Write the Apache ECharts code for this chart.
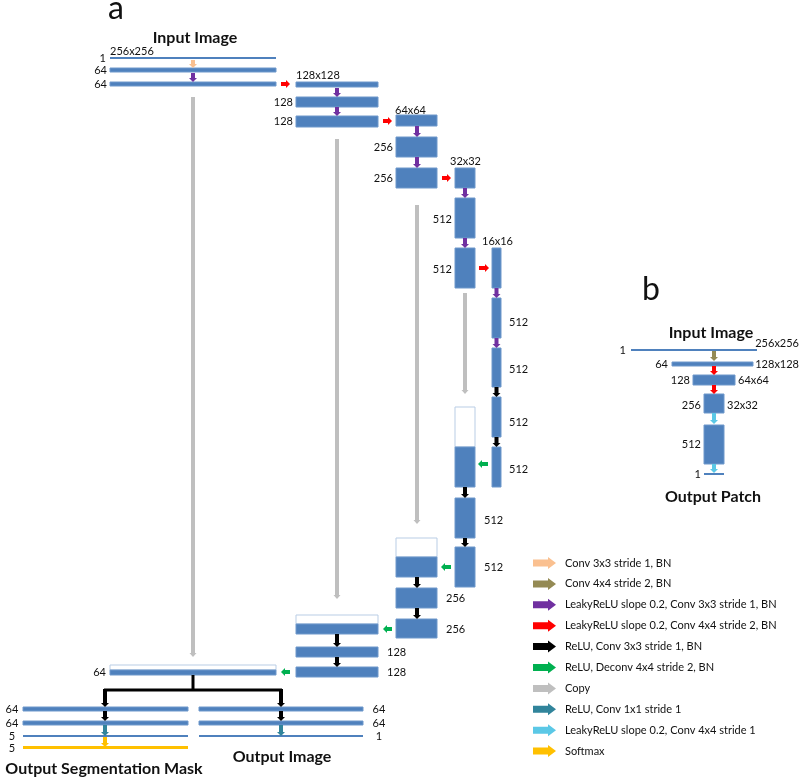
<!DOCTYPE html>
<html>
<head>
<meta charset="utf-8">
<script src="https://cdn.jsdelivr.net/npm/echarts@6/dist/echarts.min.js"></script>
<style>
  html, body { margin: 0; padding: 0; background: #ffffff; }
  #chart { width: 800px; height: 779px; }
</style>
</head>
<body>
<div id="chart"></div>
<script>
// ---------- DATA (diagram geometry in the 800x779 drawing space) ----------
// feature-map blocks [x0, y0, x1, y1]
const featureBlocks = [
  [110,68,276,72],[110,82,276,86],
  [296,82,378,87],[296,97,378,107],[296,116,378,127],
  [396,115,437,126],[396,137,437,157],[396,168,437,188],
  [455,168,475,188],[455,198,475,238],[455,248,475,288],
  [492,248,501,288],[492,298,501,338],[492,348,501,387],[492,397,501,437],[492,447,501,487],
  [455,447,475,487],[455,498,475,538],[455,547,475,587],
  [396,557,437,577],[396,588,437,608],[396,619,437,638],
  [296,624,378,634],[296,647,378,657],[296,667,378,677],
  [110,670,276,675],
  [23,707,188,711],[23,721,188,725],
  [199,707,363,711],[199,721,363,725],
  [672,362,753,366],[693,375,735,385],[704,394,724,413],[704,425,724,464]
];
// copied (skip-connection) halves [x0, y0, x1, y1]
const copiedBlocks = [[455,407,475,447],[396,538,437,557],[296,615,378,624],[110,665,276,670]];
// single-channel layers [x0, y, x1]
const thinLayers = [[110,58,276],[23,736,188],[199,736,363],[631,350,757],[704,474,724]];
const softmaxLayers = [[23,747.5,188]];

// arrows [x0, y0, x1, y1]
const conv3Arrows   = [[193,60,193,68]];
const conv4Arrows   = [[714,351,714,361]];
const lrelu3Arrows  = [[193,73,193,82],[337,88,337,97],[337,107,337,116],[417,126,417,137],[417,157,417,168],
                       [465,188,465,198],[465,238,465,248],[496.5,288,496.5,298],[496.5,338,496.5,348]];
const lrelu4Arrows  = [[281,84,290,84],[383,121,392,121],[442,178,451,178],[479,268,489,268],
                       [714,366,714,375],[714,385,714,394]];
const reluArrows    = [[496.5,387,496.5,397],[496.5,437,496.5,447],[465,487,465,498],[465,538,465,547],
                       [417,577,417,588],[417,608,417,619],[337,634,337,647],[337,657,337,667],
                       [105,689,105,707],[281,689,281,707],[105,711,105,721],[281,711,281,721]];
const deconvArrows  = [[488,464,478,464],[451,567,441,567],[392,629,383,629],[290,672,281,672]];
const copyArrows    = [[193,97,193,657],[337,139,337,599],[417,205,417,524],[465,293,465,394]];
const conv1Arrows   = [[105,725,105,736],[281,725,281,736]];
const lrelu4s1Arrows= [[714,413,714,424],[714,464,714,473]];
const softmaxArrows = [[105,737,105,747]];
// branching connector polylines
const treeLines = [[193,675,193,690],[104,690,282,690]];

// labels [x, y, text]
const rightAlignedLabels = [
  [106,58,'1'],[107,70,'64'],[107,84,'64'],
  [293,102,'128'],[293,121,'128'],
  [393,147,'256'],[393,178,'256'],
  [452,219,'512'],[452,269,'512'],
  [106,672,'64'],
  [626,350,'1'],[668,364,'64'],[690,380,'128'],[701,405,'256'],[701,444,'512'],[701,474,'1'],
  [799,343,'256x256'],[799,364,'128x128']
];
const leftAlignedLabels = [
  [509,322,'512'],[509,369,'512'],[509,422,'512'],[509,469,'512'],
  [484,520,'512'],[484,567,'512'],
  [446,598,'256'],[446,629,'256'],
  [387,652,'128'],[387,672,'128'],
  [110,51,'256x256'],[296,75,'128x128'],[395,110,'64x64'],[450,161,'32x32'],[482,241,'16x16'],
  [738,380,'64x64'],[727,405,'32x32']
];
const centeredLabels = [
  [12,709,'64'],[12,723,'64'],[12,736,'5'],[12,748,'5'],
  [379,709,'64'],[379,723,'64'],[379,736,'1']
];
const titles = [
  [195,38,'Input Image'],[104,769,'Output Segmentation Mask'],[282,757,'Output Image'],
  [711,333,'Input Image'],[713,497,'Output Patch']
];
const panelLetters = [[116,9,'a'],[651,290,'b']];

const legendLabels = [
  'Conv 3x3 stride 1, BN','Conv 4x4 stride 2, BN','LeakyReLU slope 0.2, Conv 3x3 stride 1, BN',
  'LeakyReLU slope 0.2, Conv 4x4 stride 2, BN','ReLU, Conv 3x3 stride 1, BN','ReLU, Deconv 4x4 stride 2, BN',
  'Copy','ReLU, Conv 1x1 stride 1','LeakyReLU slope 0.2, Conv 4x4 stride 1','Softmax'
];
const legendColors = ['#FAC090','#948A54','#7030A0','#FF0000','#000000','#00B050','#BFBFBF','#31849B','#5BC8E6','#FFC000'];

// ---------- RENDERING ----------
const FONT = 'Lato, "Open Sans", sans-serif';
const BLUE = '#4F81BD';

function rectSeries(data, fill, stroke) {
  return {
    type: 'custom', coordinateSystem: 'cartesian2d', silent: true, data: data, encode: { x: [0, 2], y: [1, 3] },
    renderItem: function (params, api) {
      const p0 = api.coord([api.value(0), api.value(1)]);
      const p1 = api.coord([api.value(2), api.value(3)]);
      return { type: 'rect', shape: { x: p0[0], y: p0[1], width: p1[0] - p0[0], height: p1[1] - p0[1] },
               style: { fill: fill, stroke: stroke, lineWidth: 1 } };
    }
  };
}
function hLineSeries(data, color, width) {
  return {
    type: 'custom', coordinateSystem: 'cartesian2d', silent: true, data: data, encode: { x: [0, 2], y: 1 },
    renderItem: function (params, api) {
      const p0 = api.coord([api.value(0), api.value(1)]);
      const p1 = api.coord([api.value(2), api.value(1)]);
      return { type: 'line', shape: { x1: p0[0], y1: p0[1], x2: p1[0], y2: p1[1] },
               style: { stroke: color, lineWidth: width } };
    }
  };
}
function segSeries(data, color, width) {
  return {
    type: 'custom', coordinateSystem: 'cartesian2d', silent: true, data: data, encode: { x: [0, 2], y: [1, 3] },
    renderItem: function (params, api) {
      const p0 = api.coord([api.value(0), api.value(1)]);
      const p1 = api.coord([api.value(2), api.value(3)]);
      return { type: 'line', shape: { x1: p0[0], y1: p0[1], x2: p1[0], y2: p1[1] },
               style: { stroke: color, lineWidth: width } };
    }
  };
}
function arrowSeries(data, color, shaft, headW, headL) {
  return {
    type: 'custom', coordinateSystem: 'cartesian2d', silent: true, data: data, encode: { x: [0, 2], y: [1, 3] },
    renderItem: function (params, api) {
      const a = api.coord([api.value(0), api.value(1)]);
      const b = api.coord([api.value(2), api.value(3)]);
      const dx = b[0] - a[0], dy = b[1] - a[1];
      const len = Math.hypot(dx, dy) || 1;
      const ux = dx / len, uy = dy / len, nx = -uy, ny = ux;
      const hl = Math.min(headL, len * 0.6);
      const bx = b[0] - ux * hl, by = b[1] - uy * hl;
      const s = shaft / 2, h = headW / 2;
      const pts = [
        [a[0] + nx * s, a[1] + ny * s], [bx + nx * s, by + ny * s], [bx + nx * h, by + ny * h],
        [b[0], b[1]],
        [bx - nx * h, by - ny * h], [bx - nx * s, by - ny * s], [a[0] - nx * s, a[1] - ny * s]
      ];
      return { type: 'polygon', shape: { points: pts }, style: { fill: color } };
    }
  };
}
function textSeries(data, align, size, weight, color) {
  return {
    type: 'custom', coordinateSystem: 'cartesian2d', silent: true, data: data.map(d => [d[0], d[1]]), encode: { x: 0, y: 1 },
    renderItem: function (params, api) {
      const p = api.coord([api.value(0), api.value(1)]);
      return { type: 'text', x: p[0], y: p[1],
               style: { text: data[params.dataIndex][2], align: align, verticalAlign: 'middle',
                        fontSize: size, fontFamily: FONT, fontWeight: weight, fill: color || '#111111' } };
    }
  };
}

// legend rows built from label list
const LEG_X0 = 533, LEG_X1 = 556, LEG_TX = 565, LEG_Y0 = 563, LEG_STEP = 20.9;
const legendSeries = [];
legendLabels.forEach(function (lab, i) {
  const y = LEG_Y0 + i * LEG_STEP;
  legendSeries.push(arrowSeries([[LEG_X0, y, LEG_X1, y]], legendColors[i], 7, 12, 8));
});
const legendTextRows = legendLabels.map(function (lab, i) { return [LEG_TX, LEG_Y0 + i * LEG_STEP, lab]; });

const series = [
  arrowSeries(copyArrows, '#BFBFBF', 4, 7, 4),
  rectSeries(copiedBlocks, '#FFFFFF', '#B9CDE5'),
  rectSeries(featureBlocks, BLUE, '#6F98CB'),
  hLineSeries(thinLayers, BLUE, 2),
  hLineSeries(softmaxLayers, '#FFC000', 3),
  segSeries(treeLines, '#000000', 3),
  arrowSeries(conv3Arrows, '#FAC090', 4, 8, 4),
  arrowSeries(conv4Arrows, '#948A54', 4, 8, 4),
  arrowSeries(lrelu3Arrows, '#7030A0', 4, 8, 4),
  arrowSeries(lrelu4Arrows, '#FF0000', 4, 8, 4),
  arrowSeries(reluArrows, '#000000', 4, 8, 4),
  arrowSeries(deconvArrows, '#00B050', 4, 8, 4),
  arrowSeries(conv1Arrows, '#31849B', 4, 8, 4),
  arrowSeries(lrelu4s1Arrows, '#5BC8E6', 4, 8, 4),
  arrowSeries(softmaxArrows, '#FFC000', 4, 8, 4),
  textSeries(rightAlignedLabels, 'right', 11, 'normal'),
  textSeries(leftAlignedLabels, 'left', 11, 'normal'),
  textSeries(centeredLabels, 'center', 11, 'normal'),
  textSeries(titles, 'center', 16, 'bold'),
  textSeries(panelLetters, 'center', 32, 'normal'),
  textSeries(legendTextRows, 'left', 11, 'normal')
].concat(legendSeries);

const chart = echarts.init(document.getElementById('chart'), null, { renderer: 'canvas' });
chart.setOption({
  animation: false,
  backgroundColor: '#ffffff',
  grid: { left: 0, right: 0, top: 0, bottom: 0 },
  xAxis: { type: 'value', min: 0, max: 800, show: false },
  yAxis: { type: 'value', min: 0, max: 779, inverse: true, show: false },
  series: series
});
</script>
</body>
</html>
